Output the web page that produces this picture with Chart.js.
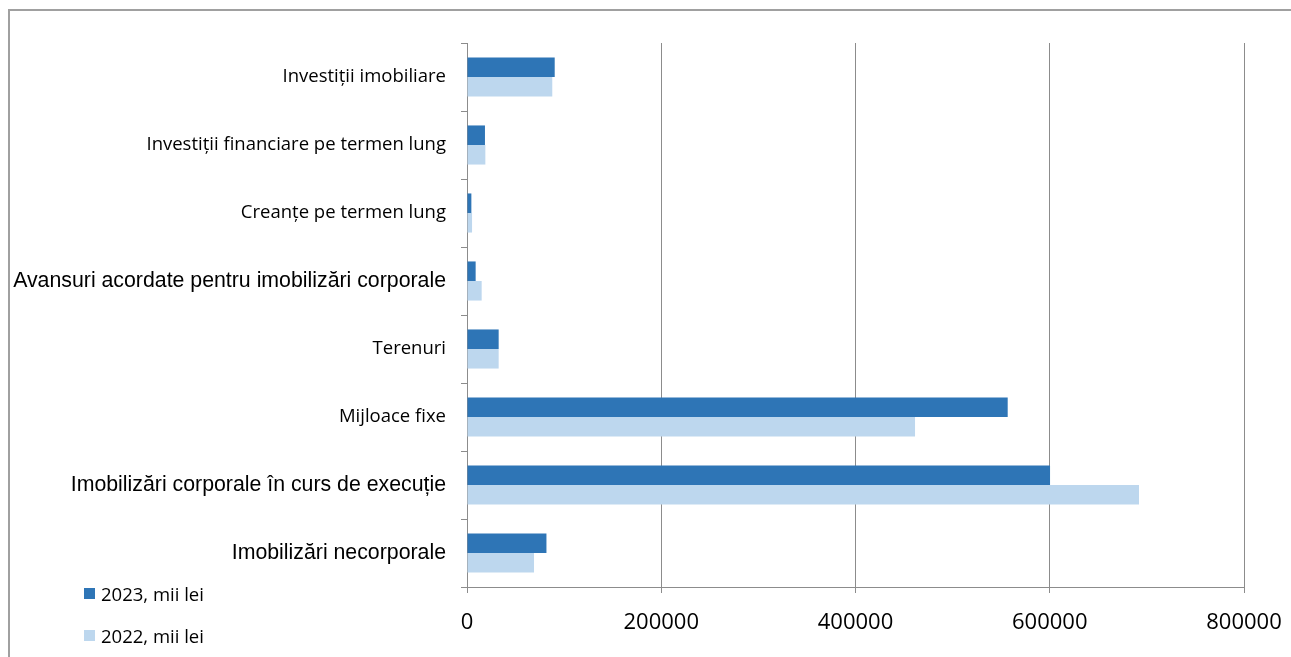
<!DOCTYPE html>
<html>
<head>
<meta charset="utf-8">
<script src="https://cdn.jsdelivr.net/npm/chart.js@4/dist/chart.umd.min.js"></script>
<style>
html, body { margin: 0; padding: 0; background: #fff; }
#wrap { position: relative; width: 1291px; height: 657px; overflow: hidden; }
#frame { position: absolute; left: 8px; top: 9px; right: -4px; bottom: -4px; border-top: 2px solid #a0a0a0; border-left: 2px solid #a0a0a0; }
#chart { position: absolute; left: 0; top: 0; }
#legend { position: absolute; left: 84px; top: 573px; font: 18.5px "Open Sans"; color: #000; }
.item { display: flex; align-items: center; height: 41.5px; }
.sw { width: 11px; height: 11px; margin-right: 6px; }
</style>
</head>
<body>
<div id="wrap">
  <div id="frame"></div>
  <canvas id="chart" width="1291" height="657"></canvas>
  <div id="legend"></div>
</div>
<script>
// Date
const categorii = [
    "Investiții imobiliare",
    "Investiții financiare pe termen lung",
    "Creanțe pe termen lung",
    "Avansuri acordate pentru imobilizări corporale",
    "Terenuri",
    "Mijloace fixe",
    "Imobilizări corporale în curs de execuție",
    "Imobilizări necorporale"
];
const valori2023 = [90300, 18500, 4500, 8900, 32600, 556700, 600300, 81800];
const valori2022 = [87800, 18900, 5200, 15100, 32600, 461300, 691900, 69000];
const ticksX = [0, 200000, 400000, 600000, 800000];

const seturi = [
    { label: "2023, mii lei", data: valori2023, culoare: "#2E75B6" },
    { label: "2022, mii lei", data: valori2022, culoare: "#BDD7EE" }
];

// unele etichete sunt scrise cu alt font in original (Arial)
const eticheteArial = [3, 6, 7];
const fontArial = { family: "Liberation Sans", size: 21.3 };
const fontCalibri = { family: "Open Sans", size: 18.5 };

// Legenda
const legend = document.getElementById("legend");
seturi.forEach(s => {
    const div = document.createElement("div");
    div.classList.add("item");
    div.innerHTML = `<span class="sw" style="background:${s.culoare}"></span><span>${s.label}</span>`;
    legend.appendChild(div);
});

const gri = "#8c8c8c";
const ctx = document.getElementById("chart").getContext("2d");
new Chart(ctx, {
    type: "bar",
    data: {
        labels: categorii,
        datasets: seturi.map(s => ({
            label: s.label,
            data: s.data,
            backgroundColor: s.culoare,
            borderWidth: 0,
            categoryPercentage: 0.575,
            barPercentage: 1
        }))
    },
    options: {
        indexAxis: "y",
        responsive: false,
        animation: false,
        layout: { padding: { top: 43, right: 47, bottom: 0, left: 0 } },
        plugins: { legend: { display: false }, tooltip: { enabled: false } },
        scales: {
            x: {
                min: ticksX[0],
                max: ticksX[ticksX.length - 1],
                afterBuildTicks: s => { s.ticks = ticksX.map(v => ({ value: v })); },
                afterFit: s => {
                    s.height = 70;
                    s.paddingLeft = 0;
                    s.paddingRight = 0;
                },
                ticks: {
                    color: "#000",
                    font: { family: "Open Sans", size: 22 },
                    padding: 17,
                    callback: v => String(v)
                },
                grid: { color: gri, tickLength: 6 },
                border: { color: gri }
            },
            y: {
                afterFit: s => { s.width = 467; },
                ticks: {
                    color: "#000",
                    font: c => eticheteArial.includes(c.index) ? fontArial : fontCalibri,
                    padding: 15
                },
                grid: { drawOnChartArea: false, offset: true, tickLength: 6, color: gri },
                border: { color: gri }
            }
        }
    }
});
</script>
</body>
</html>
